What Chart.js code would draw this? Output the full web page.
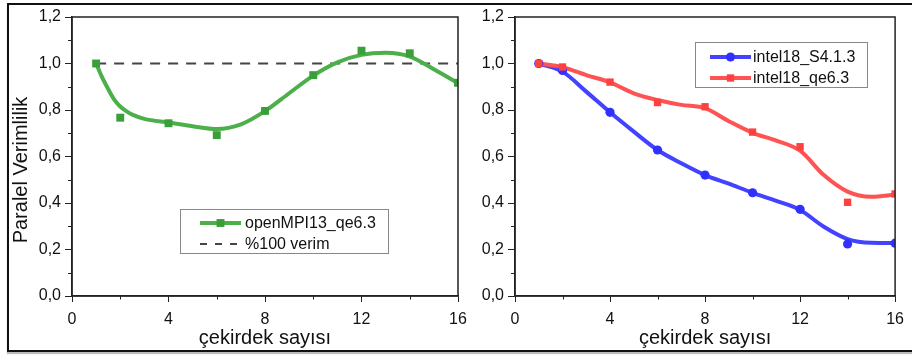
<!DOCTYPE html>
<html>
<head>
<meta charset="utf-8">
<script src="https://cdn.jsdelivr.net/npm/chart.js@4.4.1/dist/chart.umd.min.js"></script>
<style>
  html, body { margin: 0; padding: 0; background: #fff; }
  body { width: 912px; height: 355px; position: relative; overflow: hidden; }
  #frame { position: absolute; left: 7px; top: 3px; width: 920px; height: 345px; border: 2px solid #111; box-shadow: 0 2px 1px #bbb; }
  canvas { position: absolute; top: 0; }
  #leftChart { left: 0; }
  #rightChart { left: 462px; }
</style>
</head>
<body>
<div id="frame"></div>
<canvas id="leftChart" width="475" height="355"></canvas>
<canvas id="rightChart" width="450" height="355"></canvas>
<script>
const FONT = "'Liberation Sans', Arial, sans-serif";

// measured points (core count -> parallel efficiency)
const cores = [1, 2, 4, 6, 8, 10, 12, 14, 16];
const openMPIPts = [1.0, 0.767, 0.743, 0.692, 0.796, 0.95, 1.055, 1.044, 0.917];
const intelS4Pts = [1.0, 0.97, 0.79, 0.628, 0.52, 0.444, 0.373, 0.224, 0.227];
const intelQePts = [1.0, 0.985, 0.92, 0.832, 0.814, 0.705, 0.642, 0.403, 0.439];

// smoothed fit curves
const greenFitX = [1, 1.25, 1.5, 1.75, 2, 2.25, 2.5, 3, 4, 5, 6, 7, 8, 9, 10, 11, 12, 13, 14, 15, 16];
const greenFitY = [1.0, 0.94, 0.89, 0.845, 0.815, 0.795, 0.78, 0.762, 0.746, 0.73, 0.718, 0.738, 0.795, 0.872, 0.948, 1.005, 1.037, 1.046, 1.03, 0.975, 0.915];
const fitX = [1, 2, 3, 4, 5, 6, 7, 8, 9, 10, 11, 12, 13, 14, 15, 16];
const blueFitY = [1.0, 0.965, 0.879, 0.79, 0.707, 0.628, 0.571, 0.52, 0.483, 0.444, 0.409, 0.37, 0.298, 0.245, 0.229, 0.228];
const redFitY = [1.0, 0.984, 0.95, 0.919, 0.872, 0.843, 0.822, 0.808, 0.752, 0.702, 0.668, 0.625, 0.52, 0.449, 0.427, 0.436];

// %100 reference line
const refX = [1, 16];
const refY = [1, 1];

const xMinor = [2, 6, 10, 14];
const yMinor = [0.1, 0.3, 0.5, 0.7, 0.9, 1.1];

const GREEN_LINE = '#4caf4a', GREEN_PT = '#3a9f3a';
const BLUE_LINE = '#4343ff', BLUE_PT = '#3030ff';
const RED_LINE = '#ff5252', RED_PT = '#ff4040';

function pairs(xs, ys) {
  return xs.map((x, i) => ({ x: x, y: ys[i] }));
}

function fmtComma(v) {
  return Number(v).toFixed(1).replace('.', ',');
}

function drawMarker(ctx, style, x, y, r, color) {
  ctx.fillStyle = color;
  ctx.beginPath();
  if (style === 'circle') {
    ctx.arc(x, y, r, 0, Math.PI * 2);
  } else {
    const s = r * Math.SQRT1_2;
    ctx.rect(x - s, y - s, 2 * s, 2 * s);
  }
  ctx.fill();
}

// frame, minor ticks, titles and legend box
const decorPlugin = {
  id: 'decor',
  afterDraw(chart, args, opts) {
    const ctx = chart.ctx;
    const a = chart.chartArea;
    const xs = chart.scales.x, ys = chart.scales.y;
    ctx.save();

    ctx.strokeStyle = '#222';
    ctx.lineWidth = 1.5;
    ctx.strokeRect(a.left, a.top, a.right - a.left, a.bottom - a.top);

    ctx.lineWidth = 1;
    ctx.beginPath();
    xMinor.forEach(v => {
      const px = Math.round(xs.getPixelForValue(v)) + 0.5;
      ctx.moveTo(px, a.bottom);
      ctx.lineTo(px, a.bottom + 3.5);
    });
    yMinor.forEach(v => {
      const py = Math.round(ys.getPixelForValue(v)) + 0.5;
      ctx.moveTo(a.left, py);
      ctx.lineTo(a.left - 4, py);
    });
    ctx.stroke();

    ctx.fillStyle = '#111';
    ctx.font = '20px ' + FONT;
    ctx.textAlign = 'center';
    ctx.textBaseline = 'middle';
    ctx.fillText(opts.xTitle, (a.left + a.right) / 2, 338);
    if (opts.yTitle) {
      ctx.save();
      ctx.translate(21, 170);
      ctx.rotate(-Math.PI / 2);
      ctx.fillText(opts.yTitle, 0, 0);
      ctx.restore();
    }

    const lg = opts.legend;
    ctx.strokeStyle = '#888';
    ctx.lineWidth = 1;
    ctx.strokeRect(lg.x + 0.5, lg.y + 0.5, lg.w, lg.h);
    ctx.font = '16px ' + FONT;
    ctx.textAlign = 'left';
    lg.rows.forEach(row => {
      ctx.save();
      ctx.strokeStyle = row.color;
      ctx.lineWidth = row.dash ? 2 : 4;
      if (row.dash) ctx.setLineDash(row.dash);
      ctx.beginPath();
      ctx.moveTo(lg.sx0, row.y);
      ctx.lineTo(lg.sx1, row.y);
      ctx.stroke();
      ctx.restore();
      if (row.marker) drawMarker(ctx, row.marker, (lg.sx0 + lg.sx1) / 2, row.y, row.r, row.mColor);
      ctx.fillStyle = '#111';
      ctx.fillText(row.label, lg.tx, row.y + 1);
    });
    ctx.restore();
  }
};

function axes(yWidth) {
  return {
    x: {
      type: 'linear', min: 0, max: 16,
      ticks: { stepSize: 4, color: '#111', font: { size: 16, family: FONT }, padding: 8, maxRotation: 0 },
      grid: { drawOnChartArea: false, tickLength: 6, color: '#222', tickColor: '#222' },
      border: { color: '#222', width: 1.5 },
      afterFit(s) { s.height = 59; }
    },
    y: {
      min: 0, max: 1.2,
      ticks: { stepSize: 0.2, color: '#111', font: { size: 16, family: FONT }, padding: 4, callback: fmtComma },
      grid: { drawOnChartArea: false, tickLength: 7, color: '#222', tickColor: '#222' },
      border: { color: '#222', width: 1.5 },
      afterFit(s) { s.width = yWidth; }
    }
  };
}

const common = {
  responsive: false,
  animation: false,
  events: [],
  plugins: { legend: { display: false }, tooltip: { enabled: false } }
};

new Chart(document.getElementById('leftChart'), {
  type: 'scatter',
  data: {
    datasets: [
      { label: 'openMPI13_qe6.3', data: pairs(cores, openMPIPts), pointStyle: 'rect', pointRadius: 5.6,
        backgroundColor: GREEN_PT, borderWidth: 0 },
      { label: 'fit', data: pairs(greenFitX, greenFitY), showLine: true, pointRadius: 0,
        borderColor: GREEN_LINE, borderWidth: 4, cubicInterpolationMode: 'monotone' },
      { label: '%100 verim', data: pairs(refX, refY), showLine: true, pointRadius: 0,
        borderColor: '#444', borderWidth: 2, borderDash: [10, 8] }
    ]
  },
  options: Object.assign({}, common, {
    layout: { padding: { top: 17, right: 17, left: 0, bottom: 0 } },
    scales: axes(72),
    plugins: Object.assign({}, common.plugins, {
      decor: {
        xTitle: 'çekirdek sayısı',
        yTitle: 'Paralel Verimlilik',
        legend: {
          x: 180, y: 209, w: 208, h: 44, sx0: 200, sx1: 241, tx: 245,
          rows: [
            { label: 'openMPI13_qe6.3', color: GREEN_LINE, marker: 'rect', r: 5.6, mColor: GREEN_PT, y: 223 },
            { label: '%100 verim', color: '#444', dash: [7, 8], y: 244 }
          ]
        }
      }
    })
  }),
  plugins: [decorPlugin]
});

new Chart(document.getElementById('rightChart'), {
  type: 'scatter',
  data: {
    datasets: [
      { label: 'intel18_qe6.3', data: pairs(cores, intelQePts), pointStyle: 'rect', pointRadius: 5.2,
        backgroundColor: RED_PT, borderWidth: 0 },
      { label: 'intel18_S4.1.3', data: pairs(cores, intelS4Pts), pointStyle: 'circle', pointRadius: 4.6,
        backgroundColor: BLUE_PT, borderWidth: 0 },
      { label: 'qe fit', data: pairs(fitX, redFitY), showLine: true, pointRadius: 0,
        borderColor: RED_LINE, borderWidth: 4, cubicInterpolationMode: 'monotone' },
      { label: 'S4 fit', data: pairs(fitX, blueFitY), showLine: true, pointRadius: 0,
        borderColor: BLUE_LINE, borderWidth: 4, cubicInterpolationMode: 'monotone' }
    ]
  },
  options: Object.assign({}, common, {
    layout: { padding: { top: 17, right: 11, left: 0, bottom: 0 } },
    scales: axes(53),
    plugins: Object.assign({}, common.plugins, {
      decor: {
        xTitle: 'çekirdek sayısı',
        yTitle: null,
        legend: {
          x: 233, y: 42, w: 172, h: 45, sx0: 248, sx1: 289, tx: 291,
          rows: [
            { label: 'intel18_S4.1.3', color: BLUE_LINE, marker: 'circle', r: 4.6, mColor: BLUE_PT, y: 57 },
            { label: 'intel18_qe6.3', color: RED_LINE, marker: 'rect', r: 5.2, mColor: RED_PT, y: 78 }
          ]
        }
      }
    })
  }),
  plugins: [decorPlugin]
});
</script>
</body>
</html>
